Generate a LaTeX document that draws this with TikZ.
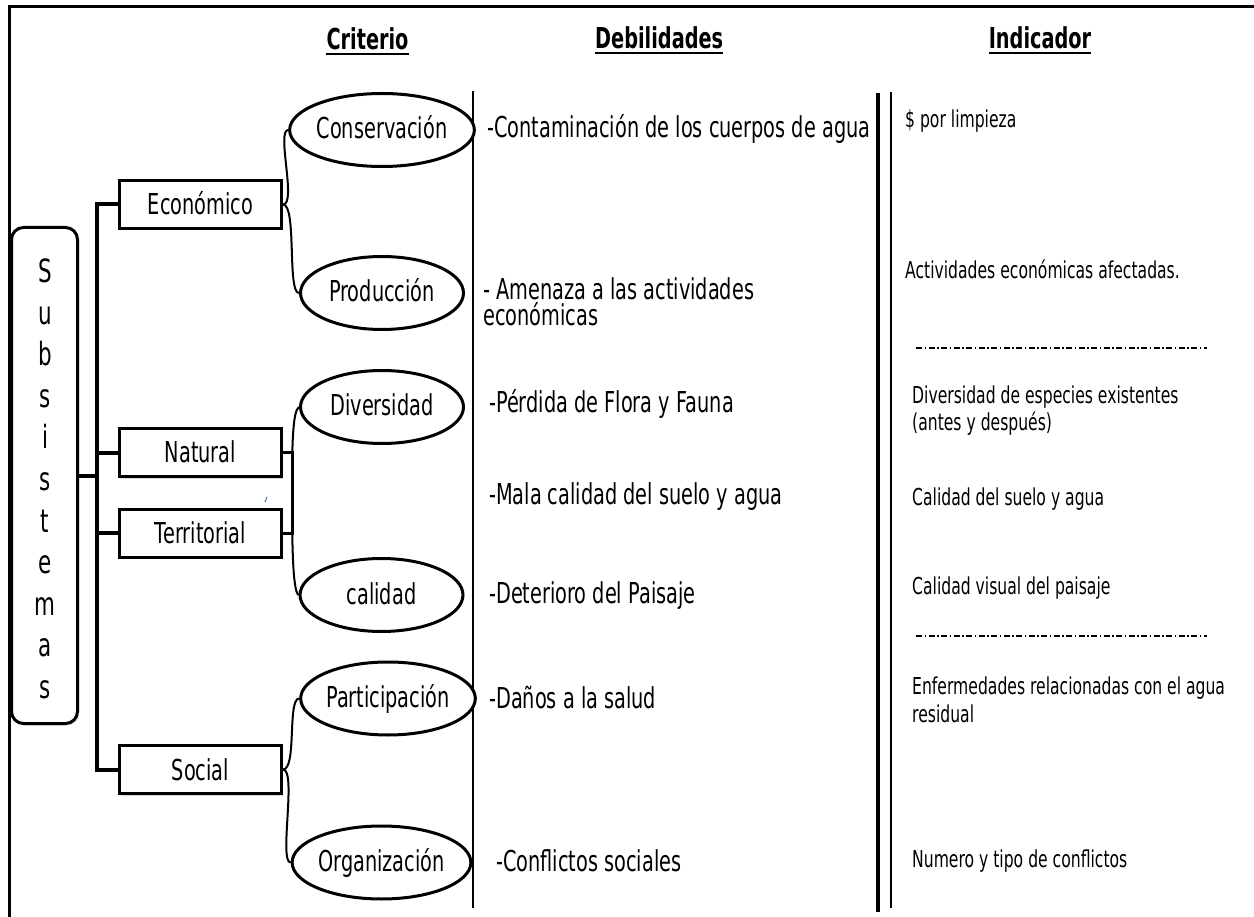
\documentclass[tikz,border=0pt]{standalone}
\usepackage{fontspec}
\setmainfont[FakeStretch=0.67]{DejaVu Sans}
\usetikzlibrary{shapes.geometric,shadows}
\definecolor{penmark}{RGB}{90,130,190}

\begin{document}
\begin{tikzpicture}[x=1pt,y=-1pt,
  body/.style={font=\fontsize{28.8}{34}\selectfont},
  ind/.style={font=\fontsize{23.3}{28}\selectfont},
  head/.style={font=\fontsize{28.8}{34}\selectfont\bfseries, inner sep=0pt, anchor=base},
  deb/.style={body, inner sep=0pt, anchor=base west},
  indtxt/.style={ind, inner sep=0pt, anchor=base west},
  letter/.style={font=\fontsize{32}{36}\selectfont, inner sep=0pt, anchor=base},
  sysbox/.style={draw, line width=3pt, minimum width=162pt, minimum height=48pt,
    inner sep=0pt, body, text height=21pt, text depth=0pt, fill=white,
    drop shadow={shadow xshift=1.5pt, shadow yshift=-2pt, opacity=0.3}},
  crit/.style={draw, ellipse, line width=3pt, minimum width=163pt, minimum height=73pt,
    inner sep=0pt, body, text height=21pt, text depth=3pt, fill=white},
  branch/.style={line width=4pt, line join=miter},
  link/.style={line width=2pt},
  stub/.style={line width=3pt},
  rule/.style={line width=1.5pt},
  dashdot/.style={line width=1.5pt, dash pattern=on 6pt off 2.5pt on 1.5pt off 2.5pt}
]
\useasboundingbox (0,0) rectangle (1254,917);

% frame (top and left edges)
\draw[line width=3pt] (9,917) -- (9,7) -- (1254,7);

% column headers
\node[head] (hcrit) at (367.5,50) {Criterio};
\node[head, anchor=base west] (hdeb) at (595,49) {Debilidades};
\node[head] (hind) at (1040,49) {Indicador};
\foreach \h in {hcrit,hdeb,hind}
  \draw[line width=2pt] ([yshift=-4pt]\h.base west) -- ([yshift=-4pt]\h.base east);

% column separators
\draw[rule] (473,91) -- (473,908);
\draw[line width=4pt] (878,93) -- (878,912);
\draw[rule] (891,92) -- (891,908);

% vertical label box
\node[draw, rounded corners=12pt, line width=3pt, minimum width=66pt, minimum height=496pt,
  inner sep=0pt, fill=white, drop shadow={shadow xshift=1.5pt, shadow yshift=-2pt, opacity=0.3}]
  (sub) at (44.5,475.5) {};
\foreach \ch [count=\i from 0] in {S,u,b,s,i,s,t,e,m,a,s}
  \node[letter] (l\i) at (45,{283+41.5*\i}) {\ch};

% subsystem boxes
\node[sysbox] (eco) at (200.5,204.5) {Económico};
\node[sysbox] (nat) at (200.5,452.5) {Natural};
\node[sysbox] (ter) at (200.5,533) {Territorial};
\node[sysbox] (soc) at (200.5,769.5) {Social};

% trunk and branches
\draw[branch] (eco.west) -- ++(-21.5,0) coordinate (ttop) |- (soc.west);
\draw[branch] (nat.west) -- (nat.west -| ttop);
\draw[branch] (ter.west) -- (ter.west -| ttop);
\draw[branch] (sub.east) -- (sub.east -| ttop);

% criteria
\node[crit] (cons) at (382,130) {Conservación};
\node[crit] (prod) at (382,293) {Producción};
\node[crit] (div)  at (382,407) {Diversidad};
\node[crit] (cal)  at (381.5,595) {calidad};
\node[crit] (part) at (388,698.5) {Participación};
\node[crit] (org)  at (381.5,862.5) {Organización};

% links from subsystems to criteria
\draw[link] (eco.east) .. controls +(14,0) and +(-12,0) .. (cons.west);
\draw[link] (eco.east) .. controls +(14,0) and +(-12,0) .. (prod.west);
\coordinate (nt) at (292,490);
\draw[stub] (nat.east) -| (nt);
\draw[stub] (ter.east) -| (nt);
\draw[link] (nt) .. controls +(0,-50) and +(-6,4) .. (div.west);
\draw[link] (nt) .. controls +(0,50) and +(-6,-4) .. (cal.west);
\draw[link] (soc.east) .. controls +(14,0) and +(-12,0) .. (part.west);
\draw[link] (soc.east) .. controls +(14,0) and +(-12,0) .. (org.west);

% small pen mark
\draw[line width=1.2pt, penmark] (265,502) -- (267,497);

% weaknesses
\node[deb] (d1)  at (487,138) {-Contaminación de los cuerpos de agua};
\node[deb] (d2a) at (483,300) {- Amenaza a las actividades};
\node[deb] (d2b) at (483,326) {económicas};
\node[deb] (d3)  at (489,413) {-Pérdida de Flora y Fauna};
\node[deb] (d4)  at (489,504) {-Mala calidad del suelo y agua};
\node[deb] (d5)  at (489,603) {-Deterioro del Paisaje};
\node[deb] (d6)  at (489,708) {-Daños a la salud};
\node[deb] (d7)  at (496,871) {-Conflictos sociales};

% indicators
\node[indtxt] (i1)  at (905,128) {\$ por limpieza};
\node[indtxt] (i2)  at (905,279) {Actividades económicas afectadas.};
\draw[dashdot] (916,348) -- (1207,348);
\node[indtxt] (i3a) at (912,403) {Diversidad de especies existentes};
\node[indtxt] (i3b) at (912,431) {(antes y después)};
\node[indtxt] (i4)  at (912,505) {Calidad del suelo y agua};
\node[indtxt] (i5)  at (912,594) {Calidad visual del paisaje};
\draw[dashdot] (916,636) -- (1207,636);
\node[indtxt] (i6a) at (912,694) {Enfermedades relacionadas con el agua};
\node[indtxt] (i6b) at (912,722) {residual};
\node[indtxt] (i7)  at (912,867) {Numero y tipo de conflictos};
\end{tikzpicture}
\end{document}
